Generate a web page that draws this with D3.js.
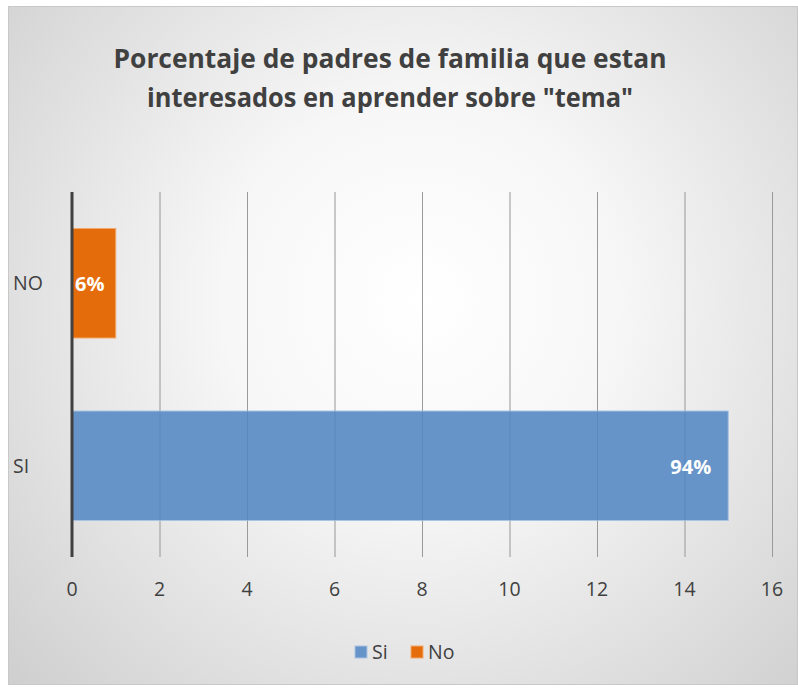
<!DOCTYPE html>
<html><head><meta charset="utf-8">
<script src="https://cdn.jsdelivr.net/npm/d3@7"></script>
<style>html,body{margin:0;padding:0;background:#fff;}svg{display:block;}</style>
</head><body>
<script>
const categories = ["NO", "SI"];
const values = [1, 15];
const dataLabels = ["6%", "94%"];
const barColors = ["#E46C0A", "#6693C8"];
const seriesNames = ["Si", "No"];
const legendColors = ["#6693C8", "#E46C0A"];
const xTicks = [0, 2, 4, 6, 8, 10, 12, 14, 16];
const titleLines = ["Porcentaje de padres de familia que estan", "interesados en aprender sobre \"tema\""];

const W = 798, H = 688;
const svg = d3.select("body").append("svg").attr("width", W).attr("height", H);
const defs = svg.append("defs");
const rg = defs.append("radialGradient").attr("id", "bg").attr("gradientUnits", "userSpaceOnUse")
  .attr("cx", 420).attr("cy", 300).attr("r", 560);
rg.append("stop").attr("offset", "0").attr("stop-color", "#ffffff");
rg.append("stop").attr("offset", "0.35").attr("stop-color", "#f7f7f7");
rg.append("stop").attr("offset", "1").attr("stop-color", "#cfcfcf");

svg.append("rect").attr("x", 0).attr("y", 0).attr("width", W).attr("height", H).attr("fill", "#ffffff");
svg.append("rect").attr("x", 8.5).attr("y", 6.5).attr("width", 789).attr("height", 678)
  .attr("fill", "url(#bg)").attr("stroke", "#c8c8c8").attr("stroke-width", 1);

const font = "Open Sans, Lato, sans-serif";
const title = svg.append("g");
titleLines.forEach((t, i) => {
  title.append("text").attr("x", 390).attr("y", 68 + i * 39).attr("text-anchor", "middle")
    .attr("font-family", font).attr("font-weight", "bold").attr("font-size", 27).attr("fill", "#404040")
    .attr("textLength", i === 0 ? 553 : 486).attr("lengthAdjust", "spacingAndGlyphs").text(t);
});

const x = d3.scaleLinear().domain([0, 16]).range([72, 772]);
const y = d3.scaleBand().domain(categories).range([192, 557]).paddingInner(0.4).paddingOuter(0.2);

// gridlines
svg.append("g").selectAll("line").data(xTicks.slice(1)).join("line")
  .attr("x1", d => x(d) + 0.5).attr("x2", d => x(d) + 0.5).attr("y1", 192).attr("y2", 557)
  .attr("stroke", "#a6a6a6").attr("stroke-width", 1);

// bars
svg.append("g").selectAll("rect").data(categories).join("rect")
  .attr("x", x(0)).attr("y", d => y(d)).attr("width", (d, i) => x(values[i]) - x(0)).attr("height", y.bandwidth())
  .attr("fill", (d, i) => barColors[i]).attr("stroke", (d, i) => i === 0 ? "#f2a86a" : "#a9c3e3").attr("stroke-width", 1);

// faint gridlines showing through bars
svg.append("g").selectAll("line").data(xTicks.slice(1)).join("line")
  .attr("x1", d => x(d) + 0.5).attr("x2", d => x(d) + 0.5).attr("y1", 192).attr("y2", 557)
  .attr("stroke", "rgba(0,0,0,0.07)").attr("stroke-width", 1);

// data labels
svg.append("g").selectAll("text").data(categories).join("text")
  .attr("x", (d, i) => i === 0 ? x(0) + 3 : x(values[i]) - 17)
  .attr("y", d => y(d) + y.bandwidth() / 2 + 8)
  .attr("text-anchor", (d, i) => i === 0 ? "start" : "end")
  .attr("font-family", font).attr("font-weight", "bold").attr("font-size", 20).attr("fill", "#ffffff")
  .text((d, i) => dataLabels[i]);

// y axis line
svg.append("line").attr("x1", 72).attr("x2", 72).attr("y1", 192).attr("y2", 557)
  .attr("stroke", "#404040").attr("stroke-width", 3);

// category labels
svg.append("g").selectAll("text").data(categories).join("text")
  .attr("x", 13).attr("y", d => y(d) + y.bandwidth() / 2 + 7)
  .attr("font-family", font).attr("font-size", 19.5).attr("fill", "#404040").text(d => d);

// x tick labels
svg.append("g").selectAll("text").data(xTicks).join("text")
  .attr("x", d => x(d)).attr("y", 596).attr("text-anchor", "middle")
  .attr("font-family", font).attr("font-size", 19.5).attr("fill", "#404040").text(d => d);

// legend
const legX = [355, 411];
const lg = svg.append("g");
seriesNames.forEach((s, i) => {
  lg.append("rect").attr("x", legX[i]).attr("y", 646).attr("width", 12).attr("height", 12)
    .attr("fill", legendColors[i]).attr("stroke", i === 0 ? "#a9c3e3" : "#f2a86a").attr("stroke-width", 1);
  lg.append("text").attr("x", legX[i] + 17).attr("y", 659)
    .attr("font-family", font).attr("font-size", 19.5).attr("fill", "#404040").text(s);
});
</script>
</body></html>
